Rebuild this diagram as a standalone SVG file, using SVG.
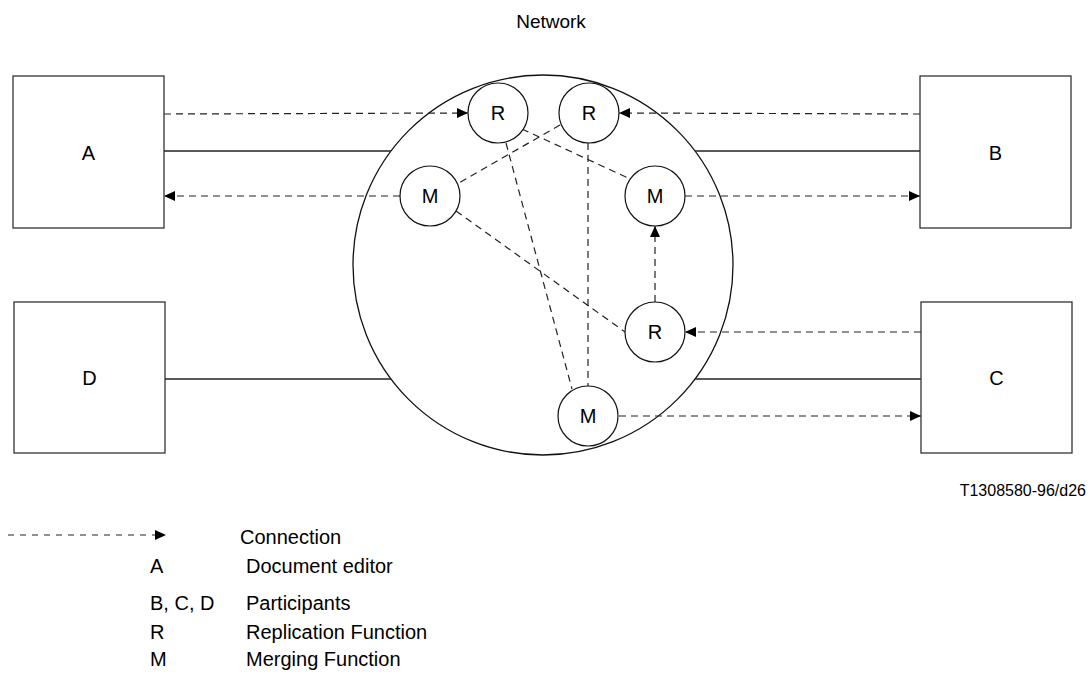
<svg xmlns="http://www.w3.org/2000/svg" width="1090" height="682" viewBox="0 0 1090 682">
<style>
text{font-family:"Liberation Sans",Arial,sans-serif;fill:#000}
.lbl{font-size:20px;text-anchor:middle}
.lg{font-size:20px}
.box{fill:#fff;stroke:#333;stroke-width:1.3}
.fn{fill:#fff;stroke:#111;stroke-width:1.2}
.net{fill:none;stroke:#111;stroke-width:1.3}
.solid{stroke:#222;stroke-width:1.3;fill:none}
.dash{stroke:#222;stroke-width:1.2;fill:none;stroke-dasharray:7 5}
.arr{marker-end:url(#ah)}
</style>
<defs>
<marker id="ah" markerWidth="11" markerHeight="10" refX="11" refY="5" orient="auto" markerUnits="userSpaceOnUse">
<path d="M0,0 L11,5 L0,10 Z" fill="#000"/>
</marker>
</defs>
<text x="551" y="28" style="font-size:19px" text-anchor="middle">Network</text>
<g id="network">
<circle class="net" cx="543" cy="265" r="190"/>
</g>
<g id="connectors">
<line class="solid" x1="164" y1="151" x2="391" y2="151"/>
<line class="solid" x1="695" y1="151" x2="920" y2="151"/>
<line class="solid" x1="165" y1="379" x2="391" y2="379"/>
<line class="solid" x1="695" y1="379" x2="921" y2="379"/>
<line class="dash arr" x1="164" y1="114" x2="468" y2="113"/>
<line class="dash arr" x1="920" y1="114" x2="619" y2="113"/>
<line class="dash arr" x1="400" y1="196" x2="164" y2="196"/>
<line class="dash arr" x1="685" y1="196" x2="920" y2="196"/>
<line class="dash arr" x1="655" y1="302" x2="655" y2="226"/>
<line class="dash arr" x1="921" y1="332" x2="685" y2="332"/>
<line class="dash arr" x1="619" y1="416" x2="921" y2="416"/>
<line class="dash" x1="560" y1="125" x2="457" y2="184"/>
<line class="dash" x1="522" y1="129" x2="628" y2="178"/>
<line class="dash" x1="506" y1="143" x2="572" y2="389"/>
<line class="dash" x1="588" y1="143" x2="588" y2="386"/>
<line class="dash" x1="456" y1="211" x2="625" y2="332"/>
</g>
<g id="A"><rect class="box" x="13" y="76" width="151" height="152"/><text class="lbl" x="88.5" y="160">A</text></g>
<g id="B"><rect class="box" x="920" y="76" width="151" height="152"/><text class="lbl" x="995.5" y="160">B</text></g>
<g id="D"><rect class="box" x="14" y="302" width="151" height="151"/><text class="lbl" x="89.5" y="385">D</text></g>
<g id="C"><rect class="box" x="921" y="302" width="151" height="151"/><text class="lbl" x="996.5" y="385">C</text></g>
<g id="R1"><circle class="fn" cx="498" cy="113" r="30"/><text class="lbl" x="498" y="120">R</text></g>
<g id="R2"><circle class="fn" cx="589" cy="113" r="30"/><text class="lbl" x="589" y="120">R</text></g>
<g id="M1"><circle class="fn" cx="430" cy="196" r="30"/><text class="lbl" x="430" y="203">M</text></g>
<g id="M2"><circle class="fn" cx="655" cy="196" r="30"/><text class="lbl" x="655" y="203">M</text></g>
<g id="R3"><circle class="fn" cx="655" cy="332" r="30"/><text class="lbl" x="655" y="339">R</text></g>
<g id="M3"><circle class="fn" cx="588" cy="416" r="30"/><text class="lbl" x="588" y="423">M</text></g>
<text x="1086" y="496" style="font-size:16px" text-anchor="end">T1308580-96/d26</text>
<g id="legend">
<line class="dash" x1="8" y1="535" x2="155" y2="535" style="stroke-dasharray:6 6"/>
<path d="M155,530 L166,535 L155,540 Z" fill="#000"/>
<text class="lg" x="240" y="544">Connection</text>
<text class="lg" x="150" y="573">A</text><text class="lg" x="246" y="573">Document editor</text>
<text class="lg" x="150" y="610">B, C, D</text><text class="lg" x="246" y="610">Participants</text>
<text class="lg" x="150" y="639">R</text><text class="lg" x="246" y="639">Replication Function</text>
<text class="lg" x="150" y="666">M</text><text class="lg" x="246" y="666">Merging Function</text>
</g>
</svg>
